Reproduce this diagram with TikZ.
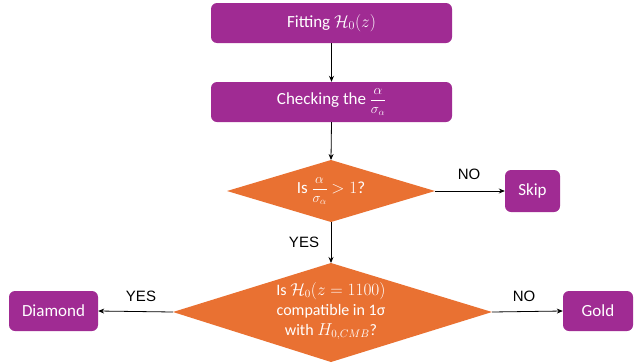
\documentclass[tikz,border=0pt]{standalone}
\usepackage{amsmath}
\usepackage{graphicx}
\usepackage{fontspec}
\setmainfont{Carlito}
\newfontfamily\lblfont{Liberation Sans}
\newcommand{\myfrac}{\raisebox{1pt}{\scalebox{0.8}{$\dfrac{\alpha}{\sigma_\alpha}$}}}
\usetikzlibrary{arrows.meta}
\definecolor{pbox}{RGB}{160,43,147}
\definecolor{odia}{RGB}{233,113,50}
\tikzset{
  pbox/.style={fill=pbox, rounded corners=6pt, text=white, font=\fontsize{17}{20}\selectfont, inner sep=0pt},
  dtext/.style={text=white, font=\fontsize{16}{20}\selectfont, align=center, inner sep=0pt},
  conn/.style={draw=black, line width=0.8pt, -{Stealth[length=6pt,width=5pt]}},
  lbl/.style={font=\lblfont\fontsize{15}{17}\selectfont, text=black}
}
\begin{document}
\begin{tikzpicture}[x=1pt,y=-1pt]
\useasboundingbox (0,0) rectangle (643,362);
\node[pbox, minimum width=241pt, minimum height=40pt] (fit) at (331.5,23) {Fitting $\mathcal{H}_0(z)$};
\node[pbox, minimum width=241pt, minimum height=40pt] (check) at (331.5,102) {Checking the \myfrac};
\path[fill=odia] (227,191) -- (331,160) -- (435,191) -- (331,222) -- cycle;
\node[dtext, font=\fontsize{17}{20}\selectfont] (d1) at (331,191) {Is \myfrac\ $> 1$?};
\coordinate (d1t) at (331,160);
\coordinate (d1b) at (331,222);
\coordinate (d1r) at (435,191);
\node[pbox, minimum width=55pt, minimum height=42pt] (skip) at (532.5,191) {Skip};
\path[fill=odia] (173,312) -- (331,263) -- (492,312) -- (331,362) -- cycle;
\node[dtext] (d2) at (331,311) {Is $\mathcal{H}_0(z=1100)$\\compatible in 1σ\\with $H_{0,CMB}$?};
\coordinate (d2t) at (331,263);
\coordinate (d2l) at (173,312);
\coordinate (d2r) at (492,312);
\node[pbox, minimum width=89pt, minimum height=40pt] (diam) at (53.5,311) {Diamond};
\node[pbox, minimum width=70pt, minimum height=40pt] (gold) at (598,311) {Gold};
\draw[conn] (fit.south) -- (check.north);
\draw[conn] (check.south) -- (d1t);
\draw[conn] (d1r) -- (skip.west);
\draw[conn] (d1b) -- (d2t);
\draw[conn] (d2l) -- (diam.east);
\draw[conn] (d2r) -- (gold.west);
\node[lbl] (no1) at (469,174) {NO};
\node[lbl] (yes1) at (304,242) {YES};
\node[lbl] (yes2) at (141,296) {YES};
\node[lbl] (no2) at (524,296) {NO};
\end{tikzpicture}
\end{document}
